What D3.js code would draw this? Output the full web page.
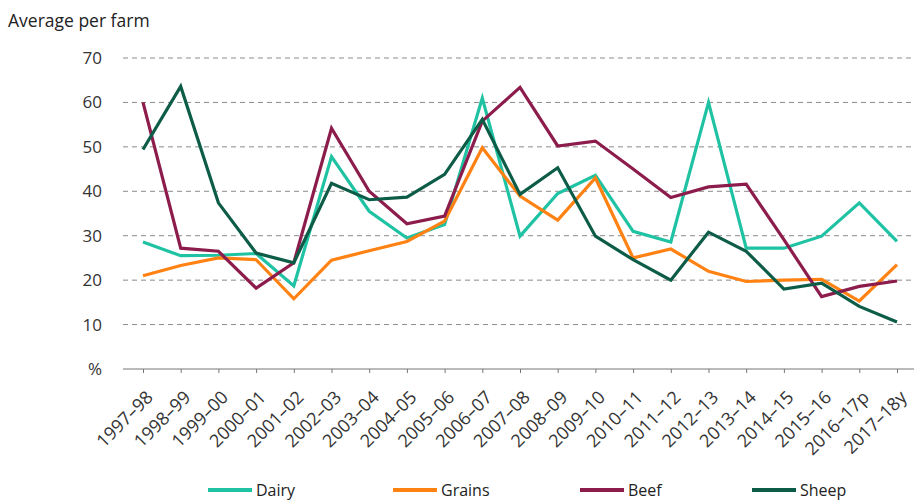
<!DOCTYPE html>
<html>
<head>
<meta charset="utf-8">
<script src="https://cdn.jsdelivr.net/npm/d3@7"></script>
<style>
  body { margin: 0; background: #fff; }
  svg { font-family: "Open Sans", "DejaVu Sans", sans-serif; }
</style>
</head>
<body>
<div id="chart"></div>
<script>
// Financial years on the x axis
const years = ["1997–98", "1998–99", "1999–00", "2000–01", "2001–02", "2002–03", "2003–04",
    "2004–05", "2005–06", "2006–07", "2007–08", "2008–09", "2009–10", "2010–11", "2011–12",
    "2012–13", "2013–14", "2014–15", "2015–16", "2016–17p", "2017–18y"];

// Values (average per farm, %)
const dairy  = [28.6, 25.5, 25.6, 26.0, 18.7, 47.8, 35.5, 29.5, 32.5, 61.0, 29.9, 39.5, 43.6, 31.0, 28.6, 60.0, 27.2, 27.2, 29.9, 37.4, 28.7];
const grains = [21.0, 23.3, 25.0, 24.6, 15.8, 24.5, 26.6, 28.7, 33.3, 49.8, 38.9, 33.5, 43.0, 25.0, 27.0, 22.0, 19.7, 20.0, 20.2, 15.3, 23.5];
const beef   = [60.0, 27.2, 26.5, 18.2, 23.9, 54.2, 40.0, 32.7, 34.4, 55.8, 63.4, 50.2, 51.3, 45.0, 38.6, 41.0, 41.6, 29.1, 16.3, 18.6, 19.8];
const sheep  = [49.4, 63.6, 37.4, 26.1, 23.9, 41.8, 38.1, 38.7, 43.8, 56.2, 39.3, 45.3, 29.9, 24.6, 20.0, 30.8, 26.5, 18.0, 19.3, 14.1, 10.6];

const yTicks = [0, 10, 20, 30, 40, 50, 60, 70];

const series = [
    { name: "Dairy",  values: dairy,  color: "#1fc2a2" },
    { name: "Grains", values: grains, color: "#ff8213" },
    { name: "Beef",   values: beef,   color: "#8c1c4c" },
    { name: "Sheep",  values: sheep,  color: "#0d5c47" }
];

const width = 914, height = 500;
const margin = { top: 58, bottom: 131, left: 123, right: 0 };

const svg = d3.select("#chart")
    .append("svg")
    .attr("width", width)
    .attr("height", height);

// Scales
const xScale = d3.scalePoint()
    .domain(years)
    .range([143, 897]);

const yScale = d3.scaleLinear()
    .domain([0, 70])
    .range([height - margin.bottom, margin.top]);

// Dashed gridlines
svg.append("g")
    .selectAll("line")
    .data(yTicks.filter(d => d > 0))
    .enter()
    .append("line")
    .attr("x1", margin.left)
    .attr("x2", width)
    .attr("y1", d => yScale(d))
    .attr("y2", d => yScale(d))
    .attr("stroke", "#8a8a8a")
    .attr("stroke-width", 1)
    .attr("stroke-dasharray", "5,4");

// Y axis labels
const yAxis = svg.append("g")
    .attr("transform", `translate(${margin.left - 18},0)`)
    .call(d3.axisLeft(yScale).tickValues(yTicks).tickSize(0).tickFormat(d => d === 0 ? "%" : d));
yAxis.select(".domain").remove();
yAxis.selectAll("text")
    .attr("font-family", "'Open Sans', sans-serif")
    .style("font-size", "17px")
    .attr("fill", "#333");

// X axis
const xAxis = svg.append("g")
    .attr("transform", `translate(0,${yScale(0)})`)
    .call(d3.axisBottom(xScale).tickSize(4).tickSizeOuter(0));
xAxis.select(".domain")
    .attr("d", `M${margin.left},0H${width}`)
    .attr("stroke", "#777");
xAxis.selectAll(".tick line").attr("stroke", "#777");
xAxis.selectAll("text")
    .attr("font-family", "'Open Sans', sans-serif")
    .style("font-size", "18px")
    .attr("fill", "#333")
    .attr("text-anchor", "end")
    .attr("x", 0)
    .attr("y", 0)
    .attr("dy", "0.35em")
    .attr("transform", "translate(6,25) rotate(-45)");

// Y axis title
svg.append("text")
    .attr("x", 8)
    .attr("y", 27)
    .style("font-size", "17.5px")
    .attr("fill", "#222")
    .text("Average per farm");

// Lines
const line = d3.line()
    .x((d, i) => xScale(years[i]))
    .y(d => yScale(d));

svg.selectAll(".series")
    .data(series)
    .enter()
    .append("path")
    .attr("class", "series")
    .attr("d", d => line(d.values))
    .attr("fill", "none")
    .attr("stroke", d => d.color)
    .attr("stroke-width", 3.2)
    .attr("stroke-linejoin", "miter");

// Legend
const legendX = [208, 393, 580, 752];
const legend = svg.selectAll(".legend")
    .data(series)
    .enter()
    .append("g")
    .attr("class", "legend")
    .attr("transform", (d, i) => `translate(${legendX[i]},490)`);

legend.append("line")
    .attr("x1", 0)
    .attr("x2", 44)
    .attr("stroke", d => d.color)
    .attr("stroke-width", 4);

legend.append("text")
    .attr("x", 48)
    .attr("y", 6)
    .style("font-size", "16px")
    .attr("fill", "#222")
    .text(d => d.name);
</script>
</body>
</html>
